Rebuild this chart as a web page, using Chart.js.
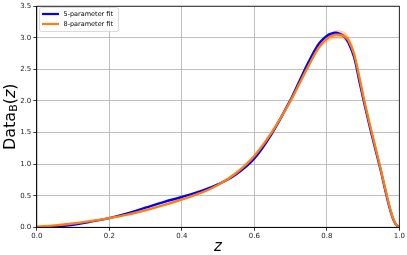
<!DOCTYPE html>
<html>
<head>
<meta charset="utf-8">
<script src="https://cdn.jsdelivr.net/npm/chart.js@4.4.1/dist/chart.umd.min.js"></script>
<style>
  html, body { margin: 0; padding: 0; background: #fff; }
  #wrap { width: 407px; height: 255px; }
</style>
</head>
<body>
<div id="wrap"><canvas id="fitChart" width="407" height="255"></canvas></div>
<script>
// values
var zVals     = [0, 0.05, 0.1, 0.15, 0.2, 0.25, 0.3, 0.35, 0.4, 0.45, 0.5, 0.55, 0.6, 0.65, 0.7, 0.725, 0.75, 0.775, 0.79, 0.8, 0.81, 0.825, 0.84, 0.85, 0.86, 0.875, 0.89, 0.9, 0.91, 0.925, 0.94, 0.95, 0.96, 0.97, 0.98, 0.99, 1.0];
var fit5      = [0, 0.01, 0.04, 0.09, 0.145, 0.22, 0.31, 0.40, 0.48, 0.57, 0.68, 0.84, 1.09, 1.50, 2.02, 2.32, 2.62, 2.88, 2.98, 3.03, 3.06, 3.08, 3.05, 3.01, 2.92, 2.70, 2.31, 2.05, 1.80, 1.44, 1.10, 0.87, 0.62, 0.38, 0.18, 0.05, 0];
var fit8      = [0.01, 0.03, 0.06, 0.10, 0.145, 0.20, 0.27, 0.35, 0.44, 0.54, 0.67, 0.86, 1.13, 1.52, 2.00, 2.28, 2.56, 2.82, 2.93, 2.98, 3.02, 3.05, 3.04, 3.02, 2.96, 2.75, 2.37, 2.10, 1.84, 1.48, 1.13, 0.89, 0.64, 0.40, 0.19, 0.05, 0];
var fit8Upper = [0.01, 0.03, 0.06, 0.10, 0.145, 0.21, 0.28, 0.36, 0.45, 0.55, 0.68, 0.87, 1.15, 1.54, 2.02, 2.31, 2.59, 2.86, 2.98, 3.03, 3.08, 3.12, 3.11, 3.09, 3.03, 2.82, 2.43, 2.16, 1.89, 1.53, 1.17, 0.92, 0.67, 0.42, 0.20, 0.06, 0];
var fit8Lower = [0.01, 0.03, 0.06, 0.10, 0.145, 0.19, 0.26, 0.34, 0.43, 0.53, 0.66, 0.85, 1.11, 1.50, 1.98, 2.25, 2.53, 2.78, 2.88, 2.93, 2.96, 2.98, 2.98, 2.95, 2.89, 2.69, 2.31, 2.04, 1.79, 1.43, 1.09, 0.86, 0.61, 0.38, 0.18, 0.04, 0];
var xTicks = [0, 0.2, 0.4, 0.6, 0.8, 1.0];
var yTicks = [0, 0.5, 1.0, 1.5, 2.0, 2.5, 3.0, 3.5];
var seriesLabels = ['5-parameter fit', '8-parameter fit'];

var BLUE = '#0000ff';
var ORANGE = '#ff7f0e';

function pts(ys) {
  return zVals.map(function (z, i) { return { x: z, y: ys[i] }; });
}

// frame, legend and axis titles drawn like matplotlib
var decor = {
  id: 'decor',
  afterDraw: function (chart) {
    var ctx = chart.ctx;
    var a = chart.chartArea;
    ctx.save();
    ctx.strokeStyle = '#000';
    ctx.lineWidth = 0.8;
    ctx.strokeRect(a.left, a.top, a.right - a.left, a.bottom - a.top);

    // legend box
    var lx = 39.5, ly = 7.5, lw = 79, lh = 24;
    ctx.fillStyle = 'rgba(255,255,255,0.8)';
    ctx.strokeStyle = '#d0d0d0';
    ctx.lineWidth = 0.8;
    ctx.beginPath();
    ctx.roundRect ? ctx.roundRect(lx, ly, lw, lh, 2) : ctx.rect(lx, ly, lw, lh);
    ctx.fill();
    ctx.stroke();
    var cols = [BLUE, ORANGE];
    ctx.font = '6.5px "DejaVu Sans"';
    ctx.textBaseline = 'middle';
    ctx.textAlign = 'left';
    for (var i = 0; i < 2; i++) {
      var yy = ly + 6.5 + i * 10;
      ctx.strokeStyle = cols[i];
      ctx.lineWidth = 2.2;
      ctx.beginPath();
      ctx.moveTo(lx + 2.5, yy);
      ctx.lineTo(lx + 19.5, yy);
      ctx.stroke();
      ctx.fillStyle = '#000';
      ctx.fillText(seriesLabels[i], lx + 24, yy);
    }

    // x title
    ctx.fillStyle = '#000';
    ctx.font = 'italic 15px "DejaVu Sans"';
    ctx.textAlign = 'center';
    ctx.textBaseline = 'middle';
    ctx.fillText('z', (a.left + a.right) / 2, 247);

    // y title: Data_B(z)
    ctx.translate(11, (a.top + a.bottom) / 2);
    ctx.rotate(-Math.PI / 2);
    ctx.textAlign = 'left';
    ctx.textBaseline = 'middle';
    var big = '16px "DejaVu Sans"', small = '11px "DejaVu Sans"', ital = 'italic 16px "DejaVu Sans"';
    ctx.font = big;
    var w1 = ctx.measureText('Data').width;
    var wp = ctx.measureText('(').width;
    var wc = ctx.measureText(')').width;
    ctx.font = small;
    var w2 = ctx.measureText('B').width;
    ctx.font = ital;
    var wz = ctx.measureText('z').width;
    var x0 = -(w1 + w2 + wp + wz + wc) / 2;
    ctx.font = big;
    ctx.fillText('Data', x0, 0);
    ctx.font = small;
    ctx.fillText('B', x0 + w1, 3.5);
    ctx.font = big;
    ctx.fillText('(', x0 + w1 + w2, 0);
    ctx.font = ital;
    ctx.fillText('z', x0 + w1 + w2 + wp, 0);
    ctx.font = big;
    ctx.fillText(')', x0 + w1 + w2 + wp + wz, 0);
    ctx.restore();
  }
};

var tickFont = { family: 'DejaVu Sans', size: 7 };
var curve = { pointRadius: 0, tension: 0.4 };

new Chart(document.getElementById('fitChart'), {
  type: 'line',
  data: {
    datasets: [
      Object.assign({ label: seriesLabels[1], data: pts(fit8), borderColor: ORANGE, borderWidth: 2.4, fill: false }, curve),
      Object.assign({ label: seriesLabels[0], data: pts(fit5), borderColor: BLUE, borderWidth: 2.4, fill: false }, curve),
      Object.assign({ label: 'band hi', data: pts(fit8Upper), borderWidth: 0, borderColor: 'rgba(0,0,0,0)', backgroundColor: 'rgba(255,127,14,0.35)', fill: '+1' }, curve),
      Object.assign({ label: 'band lo', data: pts(fit8Lower), borderWidth: 0, borderColor: 'rgba(0,0,0,0)', fill: false }, curve)
    ]
  },
  options: {
    responsive: false,
    animation: false,
    layout: { padding: { top: 4.5, right: 7.7, left: 0, bottom: 0 } },
    plugins: { legend: { display: false }, tooltip: { enabled: false } },
    scales: {
      x: {
        type: 'linear', min: 0, max: 1,
        afterFit: function (s) { s.height = 27.7; },
        afterBuildTicks: function (s) { s.ticks = xTicks.map(function (v) { return { value: v }; }); },
        ticks: { font: tickFont, color: '#222', padding: 1, maxRotation: 0, callback: function (v) { return v.toFixed(1); } },
        grid: { color: '#b0b0b0', lineWidth: 0.8, tickColor: '#000', tickLength: 3.5 },
        border: { color: '#000', width: 0.8 }
      },
      y: {
        type: 'linear', min: 0, max: 3.5,
        afterFit: function (s) { s.width = 36.8; },
        afterBuildTicks: function (s) { s.ticks = yTicks.map(function (v) { return { value: v }; }); },
        ticks: { font: tickFont, color: '#222', padding: 2, callback: function (v) { return v.toFixed(1); } },
        grid: { color: '#b0b0b0', lineWidth: 0.8, tickColor: '#000', tickLength: 3.5 },
        border: { color: '#000', width: 0.8 }
      }
    }
  },
  plugins: [decor]
});
</script>
</body>
</html>
